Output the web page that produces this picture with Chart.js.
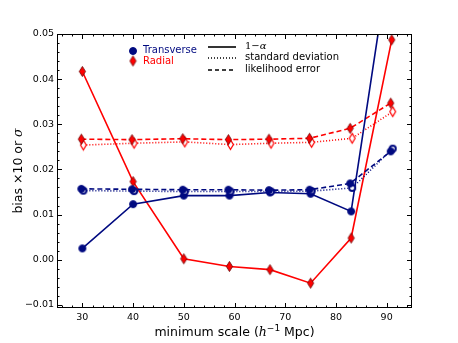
<!DOCTYPE html>
<html>
<head>
<meta charset="utf-8">
<script src="https://cdn.jsdelivr.net/npm/chart.js@4"></script>
<style>
  html, body { margin: 0; padding: 0; background: #fff; }
  #wrap { width: 458px; height: 343px; }
</style>
</head>
<body>
<div id="wrap"><canvas id="chart" width="458" height="343"></canvas></div>
<script>
// minimum scale (h^-1 Mpc)
const scales = [30, 40, 50, 59, 67, 75, 83, 91];
// small horizontal offsets of the error markers, as in the original plot
const likeX = [29.8, 39.8, 49.8, 58.8, 66.8, 74.8, 82.8, 90.8];
const stdX = [30.2, 40.2, 50.2, 59.2, 67.2, 75.2, 83.2, 91.2];

// Transverse
const transAlpha = [0.0025, 0.0123, 0.0142, 0.0142, 0.0149, 0.0146, 0.0107, 0.070];
const transStd = [0.0153, 0.0152, 0.0151, 0.0151, 0.0151, 0.0152, 0.0159, 0.0246];
const transLike = [0.0157, 0.0156, 0.0155, 0.0155, 0.0154, 0.0155, 0.0169, 0.0240];

// Radial
const radAlpha = [0.0417, 0.0173, 0.0002, -0.0015, -0.0022, -0.0052, 0.0048, 0.0487];
const radStd = [0.0254, 0.0258, 0.0261, 0.0255, 0.0258, 0.0260, 0.0269, 0.0328];
const radLike = [0.0267, 0.0266, 0.0268, 0.0266, 0.0267, 0.0269, 0.0291, 0.0347];

const xTicks = [30, 40, 50, 60, 70, 80, 90];
const yTicks = [-0.01, 0, 0.01, 0.02, 0.03, 0.04, 0.05];

const NAVY = '#000a80';
const RED = '#ff0000';

function marker(shape, fill, stroke, w, h, lw) {
    const c = document.createElement('canvas');
    c.width = w + 2; c.height = h + 2;
    const g = c.getContext('2d');
    const cx = c.width / 2, cy = c.height / 2;
    g.beginPath();
    if (shape === 'circle') {
        g.arc(cx, cy, w / 2 - lw / 2, 0, Math.PI * 2);
    } else {
        g.moveTo(cx, cy - h / 2 + lw / 2);
        g.lineTo(cx + w / 2 - lw / 2, cy);
        g.lineTo(cx, cy + h / 2 - lw / 2);
        g.lineTo(cx - w / 2 + lw / 2, cy);
        g.closePath();
    }
    g.fillStyle = fill;
    g.fill();
    g.lineWidth = lw;
    g.strokeStyle = stroke;
    g.stroke();
    return c;
}

const navyDot = marker('circle', NAVY, NAVY, 8, 8, 1);
const navyOpen = marker('circle', '#fff', NAVY, 8, 8, 2);
const redDia = marker('diamond', RED, '#600', 7, 11, 0.8);
const redOpen = marker('diamond', '#fff', RED, 7, 11, 1.2);

function pts(xs, ys) {
    return xs.map((x, i) => ({ x: x, y: ys[i] }));
}

function series(xs, ys, color, dash, img) {
    return {
        data: pts(xs, ys),
        borderColor: color,
        borderWidth: 1.6,
        borderDash: dash,
        pointStyle: img,
        pointRadius: 4,
        showLine: true,
        tension: 0
    };
}

const frame = {
    id: 'frame',
    afterDraw(chart) {
        const g = chart.ctx;
        const a = chart.chartArea;
        const xs = chart.scales.x, ys = chart.scales.y;
        g.save();
        g.strokeStyle = '#000';
        g.lineWidth = 1;
        g.strokeRect(a.left + 0.5, a.top + 0.5, a.right - a.left - 1, a.bottom - a.top - 1);
        g.beginPath();
        for (let v = 26; v <= 94; v += 2) {
            const major = v % 10 === 0;
            const len = major ? 5 : 2.5;
            const px = Math.round(xs.getPixelForValue(v)) + 0.5;
            g.moveTo(px, a.bottom); g.lineTo(px, a.bottom - len);
            g.moveTo(px, a.top); g.lineTo(px, a.top + len);
        }
        for (let k = -5; k <= 25; k++) {
            const v = k * 0.002;
            const major = k % 5 === 0;
            const len = major ? 5 : 2.5;
            const py = Math.round(ys.getPixelForValue(v)) + 0.5;
            g.moveTo(a.left, py); g.lineTo(a.left + len, py);
            g.moveTo(a.right, py); g.lineTo(a.right - len, py);
        }
        g.stroke();

        // axis titles
        g.fillStyle = '#000';
        g.textBaseline = 'alphabetic';
        const sans = '12.5px "DejaVu Sans"';
        const runs = [
            ['minimum scale (', sans, 0],
            ['h', 'italic 12.5px "DejaVu Serif"', 0],
            ['\u22121', '9px "DejaVu Sans"', -5],
            [' Mpc)', sans, 0]
        ];
        let w = 0;
        runs.forEach(r => { g.font = r[1]; w += g.measureText(r[0]).width; });
        let x = (a.left + a.right) / 2 - w / 2;
        runs.forEach(r => {
            g.font = r[1];
            g.fillText(r[0], x, 336 + r[2]);
            x += g.measureText(r[0]).width;
        });

        g.save();
        g.translate(22, (a.top + a.bottom) / 2);
        g.rotate(-Math.PI / 2);
        const yr = [
            ['bias \u00d710 or ', sans],
            ['\u03c3', 'italic 12.5px "DejaVu Serif"']
        ];
        w = 0;
        yr.forEach(r => { g.font = r[1]; w += g.measureText(r[0]).width; });
        x = -w / 2;
        yr.forEach(r => {
            g.font = r[1];
            g.fillText(r[0], x, 0);
            x += g.measureText(r[0]).width;
        });
        g.restore();

        // legend
        g.font = '10px "DejaVu Sans"';
        g.textBaseline = 'middle';
        g.drawImage(navyDot, 133 - navyDot.width / 2, 51 - navyDot.height / 2);
        g.drawImage(redDia, 133 - redDia.width / 2, 61 - redDia.height / 2);
        g.fillStyle = NAVY;
        g.fillText('Transverse', 143, 50.5);
        g.fillStyle = RED;
        g.fillText('Radial', 143, 61);

        g.strokeStyle = '#000';
        g.lineWidth = 1.6;
        const lines = [[[], 47], [[1, 2], 58], [[4, 3], 70]];
        lines.forEach(l => {
            g.setLineDash(l[0]);
            g.beginPath();
            g.moveTo(208, l[1]); g.lineTo(236, l[1]);
            g.stroke();
        });
        g.setLineDash([]);
        g.fillStyle = '#000';
        g.font = '10px "DejaVu Serif"';
        g.fillText('1\u2212', 245, 46.5);
        const wa = g.measureText('1\u2212').width;
        g.font = 'italic 10px "DejaVu Serif"';
        g.fillText('\u03b1', 245 + wa, 46.5);
        g.font = '10px "DejaVu Sans"';
        g.fillText('standard deviation', 245, 57.5);
        g.fillText('likelihood error', 245, 69.5);
        g.restore();
    }
};

const ctx = document.querySelector('#chart').getContext('2d');

const chart = new Chart(ctx, {
    type: 'scatter',
    data: {
        datasets: [
            series(likeX, transLike, NAVY, [5, 3], navyDot),
            series(stdX, transStd, NAVY, [1, 2], navyOpen),
            series(scales, transAlpha, NAVY, [], navyDot),
            series(likeX, radLike, RED, [5, 3], redDia),
            series(stdX, radStd, RED, [1, 2], redOpen),
            series(scales, radAlpha, RED, [], redDia)
        ]
    },
    options: {
        responsive: false,
        animation: false,
        layout: { padding: { left: 0, top: 34, right: 46, bottom: 0 } },
        plugins: {
            legend: { display: false },
            tooltip: { enabled: false }
        },
        scales: {
            x: {
                type: 'linear',
                min: 25,
                max: 95,
                afterBuildTicks: s => { s.ticks = xTicks.map(v => ({ value: v })); },
                afterFit: s => { s.height = 35; },
                grid: { display: false, drawTicks: false },
                border: { display: false },
                ticks: {
                    padding: 4,
                    color: '#000',
                    font: { family: 'DejaVu Sans', size: 9.5 },
                    maxRotation: 0,
                    callback: v => String(v)
                }
            },
            y: {
                type: 'linear',
                min: -0.0107,
                max: 0.05,
                afterBuildTicks: s => { s.ticks = yTicks.map(v => ({ value: v })); },
                afterFit: s => { s.width = 57; },
                grid: { display: false, drawTicks: false },
                border: { display: false },
                ticks: {
                    padding: 3,
                    color: '#000',
                    font: { family: 'DejaVu Sans', size: 9.5 },
                    callback: v => (v < 0 ? '\u2212' : '') + Math.abs(v).toFixed(2)
                }
            }
        }
    },
    plugins: [frame]
});
</script>
</body>
</html>
